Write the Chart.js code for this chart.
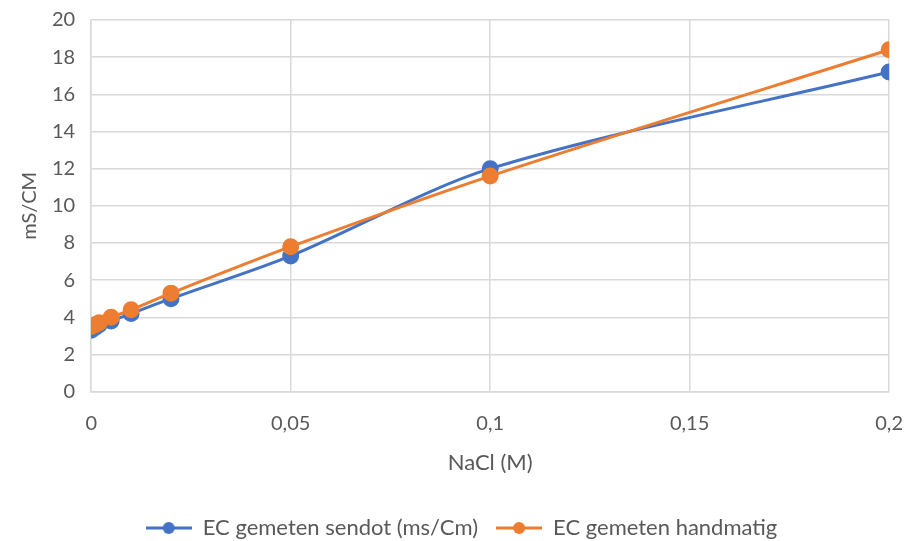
<!DOCTYPE html>
<html>
<head>
<meta charset="utf-8">
<script src="https://cdn.jsdelivr.net/npm/chart.js@4"></script>
<style>
  html, body { margin: 0; padding: 0; background: #fff; }
  #wrap { width: 905px; height: 541px; }
</style>
</head>
<body>
<div id="wrap"><canvas id="chart" width="905" height="541"></canvas></div>
<script>
// NaCl concentratie (M)
const nacl = [0, 0.001, 0.002, 0.005, 0.01, 0.02, 0.05, 0.1, 0.2];
// EC gemeten met sensor
const ecSendot = [3.3, 3.45, 3.6, 3.8, 4.2, 5.0, 7.3, 12.0, 17.2];
// EC gemeten handmatig
const ecHand = [3.5, 3.6, 3.7, 4.0, 4.4, 5.3, 7.8, 11.6, 18.4];
const seriesNames = ['EC gemeten sendot (ms/Cm)', 'EC gemeten handmatig'];
const xTicks = [0, 0.05, 0.1, 0.15, 0.2];
const yTicks = [0, 2, 4, 6, 8, 10, 12, 14, 16, 18, 20];

const BLUE = '#4472c4';
const ORANGE = '#ed7d31';
const GREY = '#595959';
const FONT = "Lato, 'Open Sans', sans-serif";

// legend symbool: lijn met bolletje, zoals in Excel
function legendIcon(color) {
  const c = document.createElement('canvas');
  c.width = 46;
  c.height = 14;
  const g = c.getContext('2d');
  g.strokeStyle = color;
  g.lineWidth = 3;
  g.beginPath();
  g.moveTo(0, 7);
  g.lineTo(46, 7);
  g.stroke();
  g.fillStyle = color;
  g.beginPath();
  g.arc(23, 7, 6, 0, Math.PI * 2);
  g.fill();
  return c;
}

function toPoints(ys) {
  return nacl.map((x, i) => ({ x: x, y: ys[i] }));
}

function makeSet(label, ys, color, order) {
  return {
    label: label,
    data: toPoints(ys),
    order: order,
    borderColor: color,
    backgroundColor: color,
    pointBackgroundColor: color,
    pointBorderColor: color,
    pointRadius: 7,
    pointHoverRadius: 7,
    borderWidth: 3,
    showLine: true,
    tension: 0.3,
    pointStyle: 'circle'
  };
}

// onzichtbare tick-streepjes geven de afstand tot de labels
const gridOpts = (len) => ({
  color: '#d9d9d9',
  lineWidth: 1.5,
  drawTicks: true,
  tickLength: len,
  tickColor: 'rgba(0,0,0,0)'
});

new Chart(document.getElementById('chart'), {
  type: 'scatter',
  data: {
    datasets: [
      makeSet(seriesNames[0], ecSendot, BLUE, 2),
      makeSet(seriesNames[1], ecHand, ORANGE, 1)
    ]
  },
  options: {
    responsive: false,
    animation: false,
    layout: { padding: { left: 18, right: 0, top: 20, bottom: -8 } },
    plugins: {
      tooltip: { enabled: false },
      legend: {
        position: 'bottom',
        labels: {
          color: GREY,
          font: { family: FONT, size: 22 },
          usePointStyle: true,
          pointStyleWidth: 46,
          padding: 18,
          sort: (a, b) => a.datasetIndex - b.datasetIndex,
          generateLabels: chart => chart.data.datasets.map((ds, i) => ({
            text: ds.label,
            fontColor: GREY,
            pointStyle: legendIcon(ds.borderColor),
            datasetIndex: i,
            hidden: false,
            lineWidth: 0
          }))
        }
      }
    },
    scales: {
      x: {
        type: 'linear',
        min: 0,
        max: 0.2,
        afterBuildTicks: axis => { axis.ticks = xTicks.map(v => ({ value: v })); },
        grid: gridOpts(18),
        border: { color: '#d9d9d9', width: 1.5 },
        ticks: {
          color: GREY,
          font: { family: FONT, size: 20 },
          padding: 2,
          callback: v => String(Number(v.toFixed(2))).replace('.', ',')
        },
        title: {
          display: true,
          text: 'NaCl (M)',
          color: GREY,
          font: { family: FONT, size: 22 },
          padding: { top: 12, bottom: 23 }
        }
      },
      y: {
        min: 0,
        max: 20,
        afterBuildTicks: axis => { axis.ticks = yTicks.map(v => ({ value: v })); },
        grid: gridOpts(14),
        border: { color: '#d9d9d9', width: 1.5 },
        ticks: {
          color: GREY,
          font: { family: FONT, size: 20 },
          padding: 2
        },
        title: {
          display: true,
          text: 'mS/CM',
          color: GREY,
          font: { family: FONT, size: 20 },
          padding: { top: 0, bottom: 8 }
        }
      }
    }
  }
});
</script>
</body>
</html>
